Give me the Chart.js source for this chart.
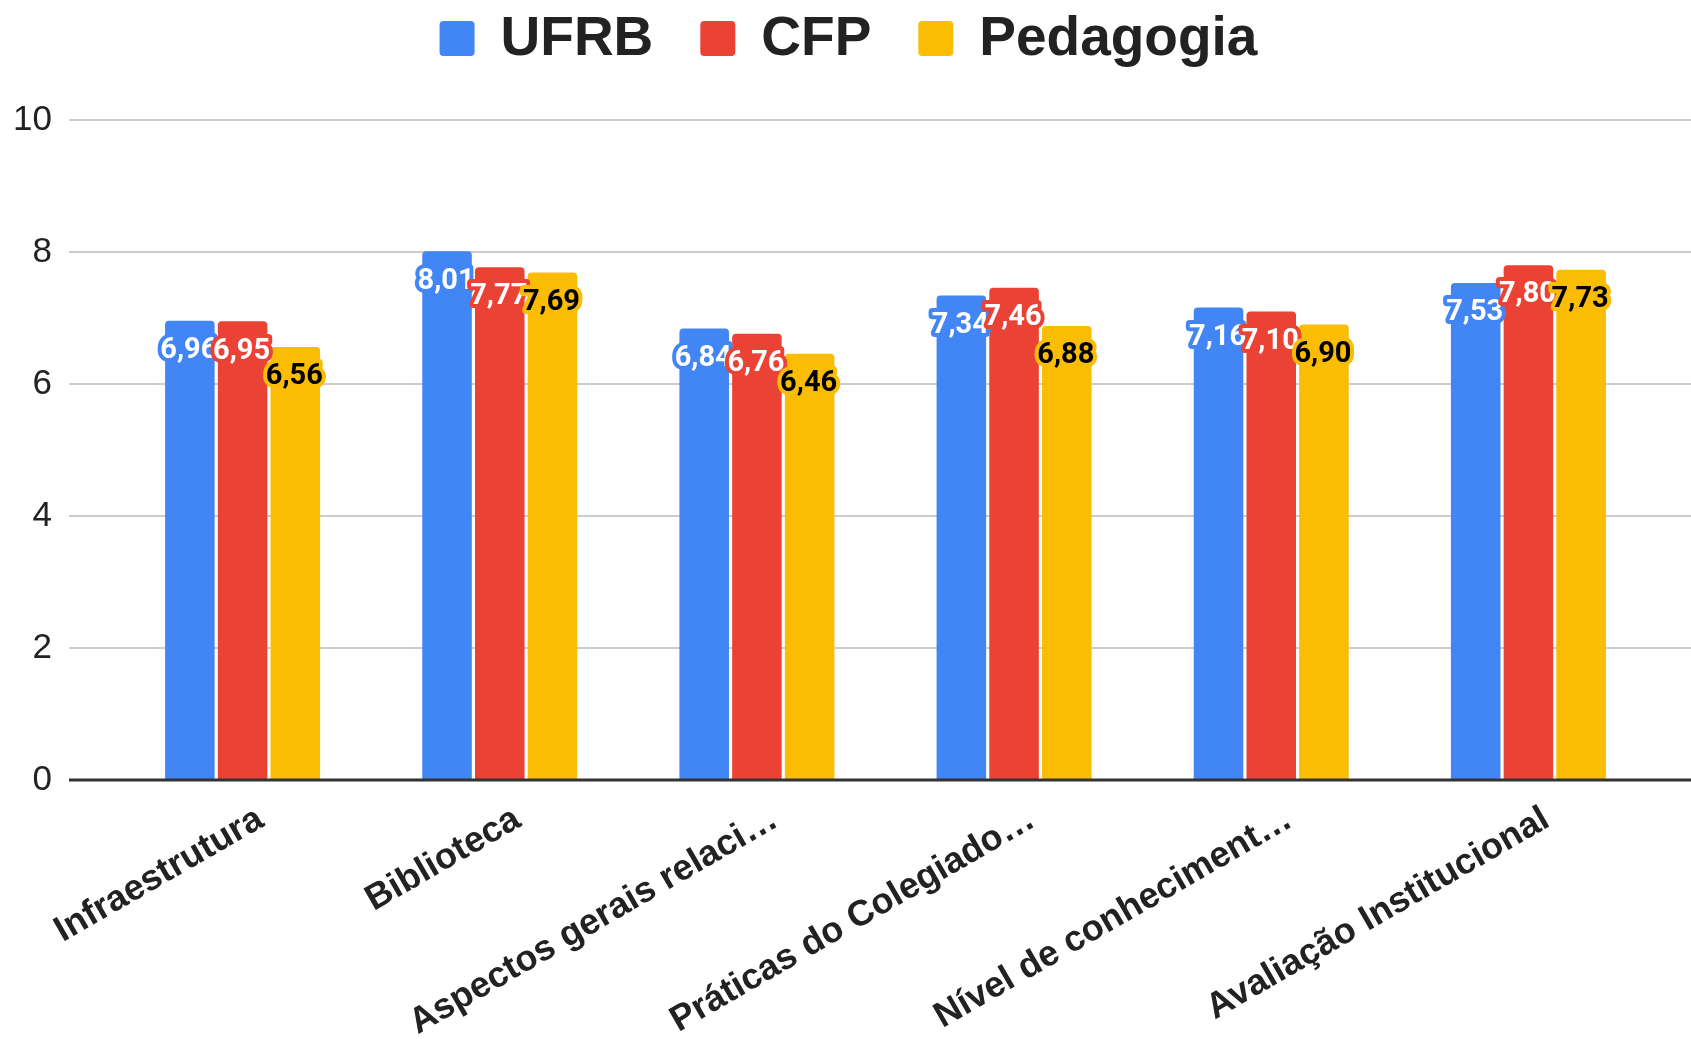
<!DOCTYPE html>
<html lang="pt">
<head>
<meta charset="UTF-8" />
<title>UFRB / CFP / Pedagogia</title>
<script src="https://cdn.jsdelivr.net/npm/chart.js"></script>
<style>
  body { margin: 0; background: #fff; }
  #wrap { width: 1691px; height: 1039px; position: relative; }
</style>
</head>
<body>
<div id="wrap"><canvas id="chart"></canvas></div>
<script>
// categorias (rótulos truncados como no original)
const categories = ['Infraestrutura', 'Biblioteca', 'Aspectos gerais relaci…', 'Práticas do Colegiado…', 'Nível de conheciment…', 'Avaliação Institucional'];
const ufrb = [6.96, 8.01, 6.84, 7.34, 7.16, 7.53];
const cfp = [6.95, 7.77, 6.76, 7.46, 7.10, 7.80];
const pedagogia = [6.56, 7.69, 6.46, 6.88, 6.90, 7.73];
const yTicks = [0, 2, 4, 6, 8, 10];

const BLUE = '#4285F4', RED = '#EA4335', YELLOW = '#FBBC04';

// linhas de grade que vão até a borda, como no Google Sheets
const gridPlugin = {
  id: 'grid',
  beforeDatasetsDraw(chart) {
    const { ctx } = chart, y = chart.scales.y;
    ctx.save();
    ctx.strokeStyle = '#cccccc';
    ctx.lineWidth = 2;
    yTicks.filter(v => v > 0).forEach(v => {
      const py = Math.round(y.getPixelForValue(v));
      ctx.beginPath(); ctx.moveTo(69, py); ctx.lineTo(chart.width, py); ctx.stroke();
    });
    ctx.restore();
  },
  afterDatasetsDraw(chart) {
    const { ctx } = chart, y = chart.scales.y;
    const py = Math.round(y.getPixelForValue(0));
    ctx.save();
    ctx.strokeStyle = '#333333';
    ctx.lineWidth = 3;
    ctx.beginPath(); ctx.moveTo(69, py); ctx.lineTo(chart.width, py); ctx.stroke();
    ctx.restore();
  }
};

// rótulos de valor com contorno na cor da série
const labelPlugin = {
  id: 'valueLabels',
  afterDatasetsDraw(chart) {
    const { ctx } = chart;
    ctx.save();
    ctx.font = 'bold 29px Roboto';
    ctx.textAlign = 'center';
    ctx.textBaseline = 'middle';
    ctx.lineJoin = 'round';
    chart.data.datasets.forEach((ds, i) => {
      const meta = chart.getDatasetMeta(i);
      meta.data.forEach((bar, j) => {
        const txt = ds.data[j].toFixed(2).replace('.', ',');
        const x = bar.x - 1, yy = bar.y + 30;
        ctx.lineWidth = 8;
        ctx.strokeStyle = ds.backgroundColor;
        ctx.strokeText(txt, x, yy);
        ctx.fillStyle = ds.labelColor;
        ctx.fillText(txt, x, yy);
      });
    });
    ctx.restore();
  }
};

// legenda no topo, centrada
const legendPlugin = {
  id: 'topLegend',
  afterDraw(chart) {
    const { ctx } = chart;
    const box = 35, gap = 26, itemGap = 47;
    ctx.save();
    ctx.font = 'bold 55px "Liberation Sans"';
    const items = chart.data.datasets.map(ds => ({ ds, w: ctx.measureText(ds.label).width }));
    const total = items.reduce((s, it) => s + box + gap + it.w, 0) + itemGap * (items.length - 1);
    let x = chart.width / 2 - total / 2 + 3;
    items.forEach(it => {
      ctx.fillStyle = it.ds.backgroundColor;
      ctx.beginPath();
      ctx.roundRect(x, 21, box, box, 4);
      ctx.fill();
      x += box + gap;
      ctx.fillStyle = '#222222';
      ctx.textBaseline = 'alphabetic';
      ctx.fillText(it.ds.label, x, 55);
      x += it.w + itemGap;
    });
    ctx.restore();
  }
};

const barOpts = { borderRadius: { topLeft: 4, topRight: 4 }, borderSkipped: 'bottom', categoryPercentage: 0.615, barPercentage: 0.94 };

new Chart(document.getElementById('chart'), {
  type: 'bar',
  data: {
    labels: categories,
    datasets: [
      { label: 'UFRB', data: ufrb, backgroundColor: BLUE, labelColor: '#ffffff', ...barOpts },
      { label: 'CFP', data: cfp, backgroundColor: RED, labelColor: '#ffffff', ...barOpts },
      { label: 'Pedagogia', data: pedagogia, backgroundColor: YELLOW, labelColor: '#000000', ...barOpts }
    ]
  },
  options: {
    responsive: true,
    maintainAspectRatio: false,
    animation: false,
    layout: { padding: { left: 0, right: 34, top: 120, bottom: 0 } },
    plugins: {
      tooltip: { enabled: false },
      legend: { display: false }
    },
    scales: {
      x: {
        grid: { display: false },
        border: { display: false },
        afterFit(s) { s.height = 259; },
        ticks: {
          autoSkip: false, minRotation: 30, maxRotation: 30,
          padding: 10,
          labelOffset: 18,
          color: '#222222',
          font: { family: 'Liberation Sans', size: 36, weight: 'bold' }
        }
      },
      y: {
        min: 0, max: 10,
        grid: { display: false },
        border: { display: false },
        afterFit(s) { s.width = 114; },
        afterBuildTicks(s) { s.ticks = yTicks.map(v => ({ value: v })); },
        ticks: {
          padding: 54,
          color: '#222222',
          font: { family: 'Liberation Sans', size: 35 }
        }
      }
    }
  },
  plugins: [gridPlugin, labelPlugin, legendPlugin]
});
</script>
</body>
</html>
